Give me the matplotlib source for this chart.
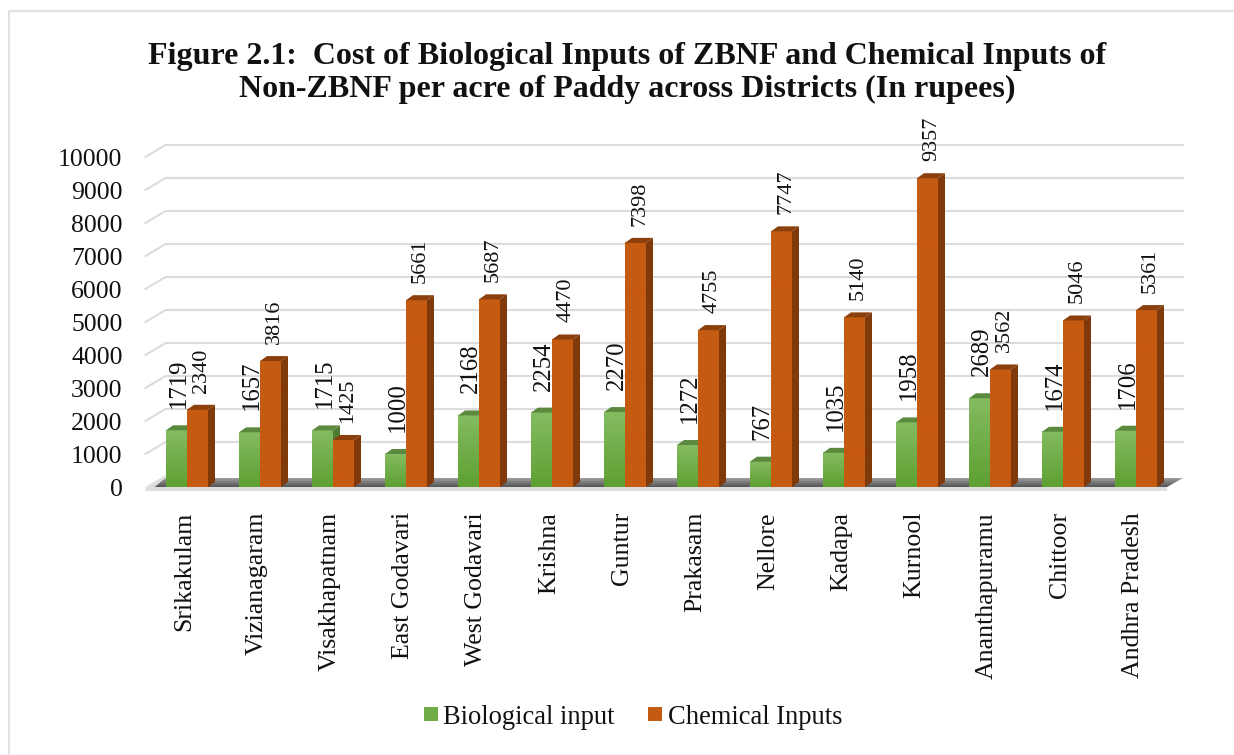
import numpy as np
import matplotlib
matplotlib.use("Agg")
import matplotlib.pyplot as plt
from matplotlib.colors import to_rgb
from matplotlib.lines import Line2D
from matplotlib.patches import Polygon, Rectangle

districts = ["Srikakulam", "Vizianagaram", "Visakhapatnam", "East Godavari",
             "West Godavari", "Krishna", "Guntur", "Prakasam", "Nellore",
             "Kadapa", "Kurnool", "Ananthapuramu", "Chittoor", "Andhra Pradesh"]
biological = [1719, 1657, 1715, 1000, 2168, 2254, 2270, 1272, 767, 1035, 1958, 2689, 1674, 1706]
chemical = [2340, 3816, 1425, 5661, 5687, 4470, 7398, 4755, 7747, 5140, 9357, 3562, 5046, 5361]
yticks = list(range(0, 11000, 1000))

title = ("Figure 2.1:  Cost of Biological Inputs of ZBNF and Chemical Inputs of\n"
         "Non-ZBNF per acre of Paddy across Districts (In rupees)")

W, H = 1234, 755
plt.rcParams['font.family'] = ['Liberation Serif', 'DejaVu Serif']

fig = plt.figure(figsize=(W / 100, H / 100), dpi=100)

# page frame: only the top and left edges show
fig.add_artist(Line2D([9 / W, 9 / W, 1], [0, 1 - 11 / H, 1 - 11 / H], color='#e2e2e2', lw=1.5))

# front plane of the fake 3d box, in pixels
left, right, y0, y1 = 150.5, 1172.5, 487, 157
ax = fig.add_axes([left / W, 1 - y0 / H, (right - left) / W, (y0 - y1) / H])
ax.axis('off')

px = 14 / (right - left)   # x data per pixel
py = 10000 / (y0 - y1)     # y data per pixel
wall_dx, wall_dy = 20 * px, 12 * py
bar_dx, bar_dy = 7 * px, 5 * py
bw = 21 * px
x = np.arange(len(districts))
xa, xb = -0.5 - 5 * px, 13.5 - 9.5 * px

# walls
for v in yticks[1:]:
    ax.plot([xa, xa + wall_dx, xb + wall_dx], [v, v + wall_dy, v + wall_dy],
            color='#dcdcdc', lw=1.5, clip_on=False, zorder=1)

# floor: light strip in front and on the left, dark shadow behind the bars
ax.add_patch(Polygon([[xa, -4 * py], [xb + 4 * px, -4 * py], [xb + 4 * px, 0], [xa + 9 * px, 0],
                      [xa + wall_dx, 9 * py], [xa + wall_dx, wall_dy], [xa, 0]],
                     fc='#dedede', ec='none', clip_on=False, zorder=1.6))
shadow = ax.imshow(np.linspace(0.33, 0.62, 32).reshape(-1, 1), cmap='gray', vmin=0, vmax=1,
                   extent=[xa, xb + wall_dx, 0, 9 * py], aspect='auto', zorder=1.5,
                   origin='lower')
shadow.set_clip_on(True)
shadow.set_clip_box(fig.bbox)
shadow.set_clip_path(Polygon([[xa + 9 * px, 0], [xa + 19 * px, 9 * py], [xb + wall_dx, 9 * py], [xb + 4 * px, 0]],
                             transform=ax.transData))
ax.set_xlim(-0.5, 13.5)
ax.set_ylim(0, 10000)


def bar3d(xl, v, front_top, front_bot, top, side, z):
    xr = xl + bw
    g = np.linspace(0, 1, 32).reshape(-1, 1, 1)
    c = np.array(to_rgb(front_bot)) * (1 - g) + np.array(to_rgb(front_top)) * g
    ax.imshow(c, extent=[xl, xr, 0, v], aspect='auto', origin='lower', zorder=z, clip_on=False)
    ax.add_patch(Polygon([[xl, v], [xr, v], [xr + bar_dx, v + bar_dy], [xl + bar_dx, v + bar_dy]],
                         fc=top, ec='none', zorder=z, clip_on=False))
    ax.add_patch(Polygon([[xr, 0], [xr + bar_dx, bar_dy], [xr + bar_dx, v + bar_dy], [xr, v]],
                         fc=side, ec='none', zorder=z, clip_on=False))


for i in x:
    bar3d(i - bw, biological[i], '#84bb60', '#5ea032', '#5b8a3e', '#4f7a33', 3 + i * 0.01)
    bar3d(i, chemical[i], '#c55a11', '#c55a11', '#8a3f0c', '#7f390b', 4 + i * 0.01)
    ax.text(i - bw / 2 + 2 * px, biological[i] + 22 * py, str(biological[i]), rotation=90,
            ha='center', va='bottom', fontsize=17.8, color='#111111', zorder=6, clip_on=False)
    ax.text(i + bw / 2 + 4 * px, chemical[i] + 17 * py, str(chemical[i]), rotation=90,
            ha='center', va='bottom', fontsize=16, color='#111111', zorder=6, clip_on=False)
    ax.text(i - 3 * px, -25 * py, districts[i], rotation=90, ha='center', va='top',
            fontsize=18.6, color='#111111', clip_on=False)

for v in yticks:
    ax.text(-0.5 - 28 * px, v - 3 * py, str(v), ha='right', va='center', fontsize=18.5,
            color='#111111', clip_on=False)

fig.text(627 / W, 1 - 73 / H, title, ha='center', va='center', fontsize=23, fontweight='bold',
         color='#111111', linespacing=1.19)

# legend
fig.patches.append(Rectangle((424 / W, 1 - 721 / H), 14 / W, 14 / H, transform=fig.transFigure, fc='#70ad47', ec='none'))
fig.patches.append(Rectangle((648 / W, 1 - 721 / H), 14 / W, 14 / H, transform=fig.transFigure, fc='#c55a11', ec='none'))
fig.text(443 / W, 1 - 717 / H, "Biological input", ha='left', va='center', fontsize=19.1, color='#111111')
fig.text(668 / W, 1 - 717 / H, "Chemical Inputs", ha='left', va='center', fontsize=19.1, color='#111111')

fig.savefig("out.png", dpi=100)
